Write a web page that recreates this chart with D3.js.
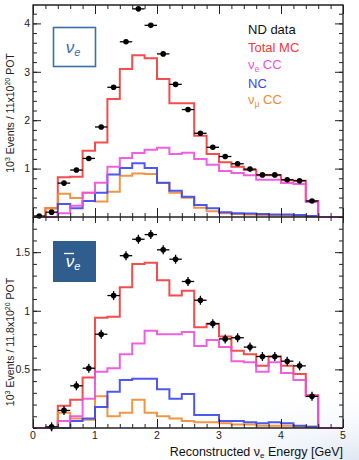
<!DOCTYPE html>
<html>
<head>
<meta charset="utf-8">
<script src="https://cdn.jsdelivr.net/npm/d3@7"></script>
<style>
  body { margin: 0; background: #fff; }
  svg { display: block; font-family: "Liberation Sans", Arial, sans-serif; }
  .tick text { font-size: 10.5px; fill: #222; }
</style>
</head>
<body>
<div id="chart"></div>
<script>
// bin low edges (GeV), bins are 0.2 wide
const binLow = [0, 0.2, 0.4, 0.6, 0.8, 1.0, 1.2, 1.4, 1.6, 1.8, 2.0, 2.2, 2.4, 2.6, 2.8,
  3.0, 3.2, 3.4, 3.6, 3.8, 4.0, 4.2, 4.4, 4.6, 4.8]
const binWidth = 0.2

// nu_e panel (top)
const nueTotal = [0, 0.18, 0.82, 0.83, 1.37, 1.54, 2.44, 3.06, 3.34, 3.28, 2.85, 2.35, 2.35, 1.68, 1.30,
  1.13, 1.04, 0.97, 0.86, 0.86, 0.76, 0.75, 0.33, 0, 0]
const nueNueCC = [0, 0, 0.08, 0.23, 0.50, 0.71, 1.04, 1.22, 1.32, 1.39, 1.43, 1.30, 1.33, 1.20, 1.08,
  0.95, 0.91, 0.86, 0.77, 0.77, 0.70, 0.68, 0.31, 0, 0]
const nueNC = [0, 0, 0.27, 0.18, 0.33, 0.50, 0.88, 1.01, 1.11, 1.01, 0.71, 0.54, 0.42, 0.25, 0.18,
  0.10, 0.08, 0.07, 0.06, 0.05, 0.05, 0.04, 0.02, 0, 0]
const nueNumuCC = [0, 0.18, 0.48, 0.39, 0.50, 0.32, 0.52, 0.85, 0.90, 0.89, 0.70, 0.50, 0.40, 0.19, 0.12,
  0.08, 0.06, 0.05, 0.04, 0.03, 0.03, 0.02, 0.01, 0, 0]
const nueDataE = [0.1, 0.3, 0.5, 0.7, 0.9, 1.1, 1.3, 1.5, 1.7, 1.9, 2.1, 2.3, 2.5, 2.7, 2.9,
  3.1, 3.3, 3.5, 3.7, 3.9, 4.1, 4.3, 4.5]
const nueData = [0.02, 0.10, 0.70, 0.97, 1.21, 1.86, 2.68, 3.62, 4.30, 3.96, 3.37, 2.74, 2.22, 1.73, 1.44,
  1.25, 1.10, 0.99, 0.87, 0.87, 0.77, 0.75, 0.33]

// anti nu_e panel (bottom)
const anueTotal = [0, 0, 0.19, 0.24, 0.43, 0.94, 0.95, 1.20, 1.40, 1.41, 1.26, 1.13, 1.17, 0.86, 0.89,
  0.78, 0.66, 0.63, 0.53, 0.61, 0.53, 0.46, 0.28, 0, 0]
const anueNueCC = [0, 0, 0.06, 0.10, 0.25, 0.48, 0.51, 0.63, 0.72, 0.83, 0.80, 0.80, 0.82, 0.70, 0.75,
  0.69, 0.57, 0.56, 0.48, 0.56, 0.47, 0.41, 0.27, 0, 0]
const anueNC = [0, 0, 0, 0.06, 0.08, 0.18, 0.31, 0.41, 0.42, 0.42, 0.33, 0.25, 0.29, 0.11, 0.11,
  0.06, 0.06, 0.05, 0.04, 0.05, 0.04, 0.02, 0.01, 0, 0]
const anueNumuCC = [0, 0, 0.13, 0.08, 0.07, 0.27, 0.10, 0.13, 0.24, 0.13, 0.10, 0.08, 0.06, 0.05, 0.05,
  0.04, 0.03, 0.03, 0.02, 0.02, 0.02, 0.01, 0.01, 0, 0]
const anueDataE = [0.3, 0.5, 0.7, 0.9, 1.1, 1.3, 1.5, 1.7, 1.9, 2.1, 2.3, 2.5, 2.7, 2.9,
  3.1, 3.3, 3.5, 3.7, 3.9, 4.1, 4.3, 4.5]
const anueData = [0.01, 0.15, 0.36, 0.51, 0.80, 1.13, 1.47, 1.61, 1.65, 1.52, 1.44, 1.25, 1.09, 0.89,
  0.76, 0.77, 0.69, 0.61, 0.61, 0.57, 0.53, 0.27]

const xTicks = [0, 1, 2, 3, 4, 5]
const topYTicks = [1, 2, 3, 4]
const botYTicks = [0.5, 1, 1.5]

const colors = {
  total: '#f23a3a',
  nuecc: '#ec4fdc',
  nc: '#3a46ee',
  numucc: '#f08a32'
}

const width = 359
const height = 460
const left = 33
const right = 343

const svg = d3.select('#chart').append('svg')
  .attr('width', width)
  .attr('height', height)

// faint slide background in the lower right corner
const defs = svg.append('defs')
const grad = defs.append('radialGradient')
  .attr('id', 'bg').attr('cx', '100%').attr('cy', '100%').attr('r', '60%')
grad.append('stop').attr('offset', '0%').attr('stop-color', '#c9d8ea').attr('stop-opacity', 0.6)
grad.append('stop').attr('offset', '100%').attr('stop-color', '#ffffff').attr('stop-opacity', 0)
svg.append('rect').attr('x', 0).attr('y', 330).attr('width', width).attr('height', 130)
  .attr('fill', 'url(#bg)')

const x = d3.scaleLinear().domain([0, 5]).range([left, right])

function drawPanel(opts) {
  const y = d3.scaleLinear().domain(opts.yDomain).range([opts.bottom, opts.top])
  const g = svg.append('g')

  // histograms as step outlines
  const stepLine = d3.line().x(d => x(d[0])).y(d => y(d[1]))
  function steps(vals) {
    const pts = []
    binLow.forEach((lo, i) => {
      pts.push([lo, vals[i]])
      pts.push([lo + binWidth, vals[i]])
    })
    pts.push([5, 0])
    return pts
  }
  const series = [
    [opts.total, colors.total],
    [opts.numucc, colors.numucc],
    [opts.nc, colors.nc],
    [opts.nuecc, colors.nuecc]
  ]
  g.selectAll('path.hist')
    .data(series)
    .enter().append('path')
      .attr('class', 'hist')
      .attr('d', d => stepLine(steps(d[0])))
      .attr('fill', 'none')
      .attr('stroke', d => d[1])
      .attr('stroke-width', 2)
      .attr('stroke-opacity', 0.9)

  // data points with error bars
  const pts = g.selectAll('g.pt')
    .data(opts.dataE.map((e, i) => ({ e: e, v: opts.data[i] })))
    .enter().append('g')
      .attr('class', 'pt')
  pts.append('line')
    .attr('x1', d => x(d.e - binWidth / 2)).attr('x2', d => x(d.e + binWidth / 2))
    .attr('y1', d => y(d.v)).attr('y2', d => y(d.v))
    .attr('stroke', '#000').attr('stroke-width', 1.3)
  pts.append('line')
    .attr('x1', d => x(d.e)).attr('x2', d => x(d.e))
    .attr('y1', d => y(d.v) - opts.errPx).attr('y2', d => y(d.v) + opts.errPx)
    .attr('stroke', '#000').attr('stroke-width', 1.3)
  pts.append('circle')
    .attr('cx', d => x(d.e)).attr('cy', d => y(d.v))
    .attr('r', 2.8).attr('fill', '#000')

  // axes: ticks inside the frame
  const minorY = d3.range(0, opts.yDomain[1] + 1e-9, opts.minorStep)
  const minorX = d3.range(0, 5 + 1e-9, 0.2)
  g.append('g').attr('transform', `translate(${left},0)`)
    .call(d3.axisLeft(y).tickValues(opts.yTicks).tickSize(-8).tickPadding(3).tickFormat(d3.format('')))
  g.append('g').attr('transform', `translate(${left},0)`)
    .call(d3.axisLeft(y).tickValues(minorY).tickSize(-4).tickFormat(''))
  g.append('g').attr('transform', `translate(${right},0)`)
    .call(d3.axisRight(y).tickValues(opts.yTicks).tickSize(-8).tickFormat(''))
  g.append('g').attr('transform', `translate(${right},0)`)
    .call(d3.axisRight(y).tickValues(minorY).tickSize(-4).tickFormat(''))
  g.append('g').attr('transform', `translate(0,${opts.bottom})`)
    .call(d3.axisBottom(x).tickValues(xTicks).tickSize(-9).tickFormat(''))
  g.append('g').attr('transform', `translate(0,${opts.bottom})`)
    .call(d3.axisBottom(x).tickValues(minorX).tickSize(-4).tickFormat(''))
  if (opts.crossTicks) {
    g.append('g').attr('transform', `translate(0,${opts.bottom})`)
      .call(d3.axisTop(x).tickValues(xTicks).tickSize(-6).tickFormat(''))
    g.append('g').attr('transform', `translate(0,${opts.bottom})`)
      .call(d3.axisTop(x).tickValues(minorX).tickSize(-4).tickFormat(''))
    g.append('g').attr('transform', `translate(0,${opts.top})`)
      .call(d3.axisTop(x).tickValues(xTicks).tickSize(-9).tickFormat(''))
    g.append('g').attr('transform', `translate(0,${opts.top})`)
      .call(d3.axisTop(x).tickValues(minorX).tickSize(-4).tickFormat(''))
  }
  g.selectAll('.domain').remove()
  g.selectAll('.tick line').attr('stroke', '#222').attr('stroke-width', 1)

  // frame
  const frame = [[left, opts.bottom], [left, opts.top], [right, opts.top], [right, opts.bottom]]
  if (opts.closedTop) {
    g.append('path').attr('d', d3.line()(frame) + 'Z')
      .attr('fill', 'none').attr('stroke', '#222').attr('stroke-width', 1.3)
  } else {
    g.append('path').attr('d', d3.line()(frame.slice(0, 2)))
      .attr('fill', 'none').attr('stroke', '#222').attr('stroke-width', 1.3)
    g.append('path').attr('d', d3.line()(frame.slice(2)))
      .attr('fill', 'none').attr('stroke', '#222').attr('stroke-width', 1.3)
    g.append('line').attr('x1', left).attr('x2', right)
      .attr('y1', opts.bottom).attr('y2', opts.bottom)
      .attr('stroke', '#222').attr('stroke-width', 1.3)
  }

  // y title
  const yt = g.append('text')
    .attr('transform', `translate(14,${opts.titleY}) rotate(-90)`)
    .attr('text-anchor', 'middle')
    .attr('font-size', 10.5)
    .attr('fill', '#222')
  yt.append('tspan').text('10')
  yt.append('tspan').attr('font-size', 7).attr('dy', -4).text('3')
  yt.append('tspan').attr('dy', 4).text(' Events / ' + opts.pot + 'x10')
  yt.append('tspan').attr('font-size', 7).attr('dy', -4).text('20')
  yt.append('tspan').attr('dy', 4).text(' POT')

  return { g: g, y: y }
}

drawPanel({
  yDomain: [0, 4.38], top: 5, bottom: 217,
  total: nueTotal, nuecc: nueNueCC, nc: nueNC, numucc: nueNumuCC,
  dataE: nueDataE, data: nueData, errPx: 2,
  yTicks: topYTicks, minorStep: 0.2, crossTicks: true, closedTop: true,
  titleY: 113, pot: '11'
})

drawPanel({
  yDomain: [0, 1.8], top: 217, bottom: 428,
  total: anueTotal, nuecc: anueNueCC, nc: anueNC, numucc: anueNumuCC,
  dataE: anueDataE, data: anueData, errPx: 4.5,
  yTicks: botYTicks, minorStep: 0.1, crossTicks: false, closedTop: false,
  titleY: 342, pot: '11.8'
})

// x tick labels and title on the bottom panel
svg.append('g').selectAll('text')
  .data(xTicks)
  .enter().append('text')
    .attr('x', d => x(d)).attr('y', 439)
    .attr('text-anchor', 'middle')
    .attr('font-size', 10.5)
    .attr('fill', '#222')
    .text(d => d)
const xt = svg.append('text')
  .attr('x', right).attr('y', 456)
  .attr('text-anchor', 'end')
  .attr('font-size', 12.5)
  .attr('fill', '#111')
xt.append('tspan').text('Reconstructed ν')
xt.append('tspan').attr('font-size', 8).attr('dy', 2).text('e')
xt.append('tspan').attr('dy', -2).text(' Energy [GeV]')

// legend
const legend = [
  { main: 'ND data', sub: '', rest: '', color: '#111' },
  { main: 'Total MC', sub: '', rest: '', color: colors.total },
  { main: 'ν', sub: 'e', rest: ' CC', color: colors.nuecc },
  { main: 'NC', sub: '', rest: '', color: colors.nc },
  { main: 'ν', sub: 'μ', rest: ' CC', color: colors.numucc }
]
const legendY = [34, 52, 69, 88, 104]
const lg = svg.append('g').attr('font-size', 13)
legend.forEach((d, i) => {
  const t = lg.append('text').attr('x', 248).attr('y', legendY[i]).attr('fill', d.color)
  t.append('tspan').text(d.main)
  if (d.sub) {
    t.append('tspan').attr('font-size', 8.5).attr('dy', 3).text(d.sub)
    t.append('tspan').attr('dy', -3).text(d.rest)
  }
})

// flavour badges
const badgeColor = '#2f5d8e'
svg.append('rect').attr('x', 53.5).attr('y', 27.5).attr('width', 42).attr('height', 39)
  .attr('fill', '#fff').attr('stroke', '#3d6ea6').attr('stroke-width', 1.6)
const b1 = svg.append('text').attr('x', 73).attr('y', 53)
  .attr('text-anchor', 'middle').attr('font-style', 'italic')
  .attr('font-size', 17).attr('fill', '#3d6ea6')
b1.append('tspan').text('ν')
b1.append('tspan').attr('font-size', 11).attr('dy', 3).text('e')

svg.append('rect').attr('x', 53).attr('y', 241).attr('width', 43).attr('height', 41)
  .attr('fill', badgeColor)
const b2 = svg.append('text').attr('x', 73).attr('y', 267)
  .attr('text-anchor', 'middle').attr('font-style', 'italic')
  .attr('font-size', 17).attr('fill', '#fff')
b2.append('tspan').text('ν')
b2.append('tspan').attr('font-size', 11).attr('dy', 3).text('e')
svg.append('line').attr('x1', 64).attr('x2', 74).attr('y1', 253.5).attr('y2', 253.5)
  .attr('stroke', '#fff').attr('stroke-width', 1.3)
</script>
</body>
</html>
